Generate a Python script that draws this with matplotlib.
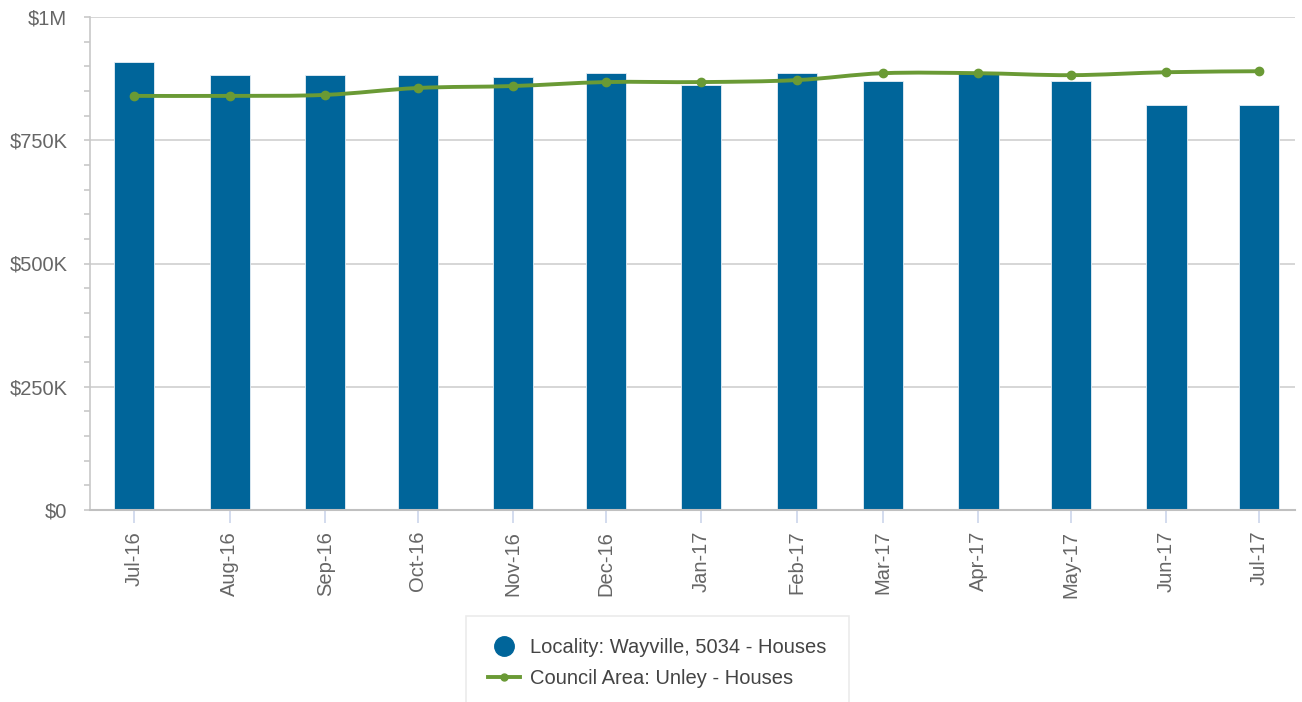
import matplotlib.pyplot as plt
import matplotlib.dates as mdates
from matplotlib.path import Path
from matplotlib.patches import PathPatch
from matplotlib.lines import Line2D
from matplotlib.ticker import FuncFormatter, MultipleLocator
import numpy as np
import datetime as dt

months = ['Jul-16', 'Aug-16', 'Sep-16', 'Oct-16', 'Nov-16', 'Dec-16', 'Jan-17',
          'Feb-17', 'Mar-17', 'Apr-17', 'May-17', 'Jun-17', 'Jul-17']
locality = [909, 882, 882, 882, 878, 886, 862, 886, 870, 886, 870, 821, 821]   # $K
council = [840, 840, 842, 856, 860, 868, 868, 872, 886, 886, 882, 888, 890]    # $K

plt.rcParams['font.family'] = ['Liberation Sans', 'DejaVu Sans']
BLUE = '#00659a'
GREEN = '#6a9a35'
GREY_TXT = '#666666'
FS = 14.5

dates = [dt.datetime.strptime(m, '%b-%y') for m in months]
x = mdates.date2num(dates)
loc_vals = np.array(locality) * 1000
cou_vals = np.array(council) * 1000

fig = plt.figure(figsize=(13.02, 7.02), dpi=100)
ax = fig.add_axes([90 / 1302, 1 - 510 / 702, 1205 / 1302, 493 / 702])

ax.bar(x, loc_vals, width=13, color=BLUE, edgecolor='#e6eef5', linewidth=0.6, zorder=2)

# smooth line through the points (cubic bezier, catmull-rom style control points)
verts = [(x[0], cou_vals[0])]
codes = [Path.MOVETO]
for i in range(len(x) - 1):
    p0 = np.array([x[max(i - 1, 0)], cou_vals[max(i - 1, 0)]])
    p1 = np.array([x[i], cou_vals[i]])
    p2 = np.array([x[i + 1], cou_vals[i + 1]])
    p3 = np.array([x[min(i + 2, len(x) - 1)], cou_vals[min(i + 2, len(x) - 1)]])
    c1 = p1 + (p2 - p0) / 6
    c2 = p2 - (p3 - p1) / 6
    verts += [tuple(c1), tuple(c2), tuple(p2)]
    codes += [Path.CURVE4] * 3
ax.add_patch(PathPatch(Path(verts, codes), facecolor='none', edgecolor=GREEN, lw=2.8, zorder=3))
ax.plot(x, cou_vals, 'o', color=GREEN, ms=6, zorder=4)

ax.set_xlim(mdates.date2num(dt.datetime(2016, 7, 1)) - 14.3,
            mdates.date2num(dt.datetime(2017, 7, 1)) + 11.7)
ax.set_ylim(0, 1_000_000)

ax.yaxis.set_major_locator(MultipleLocator(250_000))
ax.yaxis.set_minor_locator(MultipleLocator(50_000))


def money(v, pos):
    if v == 0:
        return '$0'
    if v >= 1_000_000:
        return '$%gM' % (v / 1_000_000)
    return '$%gK' % (v / 1000)


ax.yaxis.set_major_formatter(FuncFormatter(money))
ax.set_xticks(x)
ax.set_xticklabels(months, rotation=90)

ax.grid(axis='y', which='major', color='#d0d0d0', lw=1.2, zorder=0)
for s in ['top', 'right']:
    ax.spines[s].set_visible(False)
ax.spines['left'].set_color('#c8c8c8')
ax.spines['bottom'].set_color('#c0c0c0')
ax.spines['left'].set_linewidth(1.2)
ax.spines['bottom'].set_linewidth(1.5)
ax.tick_params(axis='y', which='major', length=4.3, color='#c8c8c8', width=1.2,
               labelsize=FS, labelcolor=GREY_TXT, pad=12)
ax.tick_params(axis='y', which='minor', length=4.3, color='#c8c8c8', width=1.2)
ax.tick_params(axis='x', length=9, color='#ccd6eb', width=1.2, labelsize=FS,
               labelcolor=GREY_TXT, pad=6)

handles = [Line2D([], [], marker='o', ls='none', color=BLUE, ms=14),
           Line2D([], [], marker='o', color=GREEN, lw=2.8, ms=5)]
leg = fig.legend(handles, ['Locality: Wayville, 5034 - Houses', 'Council Area: Unley - Houses'],
                 loc='upper left', bbox_to_anchor=(466 / 1302, 1 - 616 / 702),
                 fontsize=FS, frameon=True, fancybox=False, handlelength=1.6,
                 labelspacing=0.6, borderpad=1.1, borderaxespad=0, handletextpad=0.5,
                 labelcolor='#444444')
leg.get_frame().set_edgecolor('#e6e6e6')
leg.get_frame().set_linewidth(1.2)

fig.savefig('out.png', dpi=100)
